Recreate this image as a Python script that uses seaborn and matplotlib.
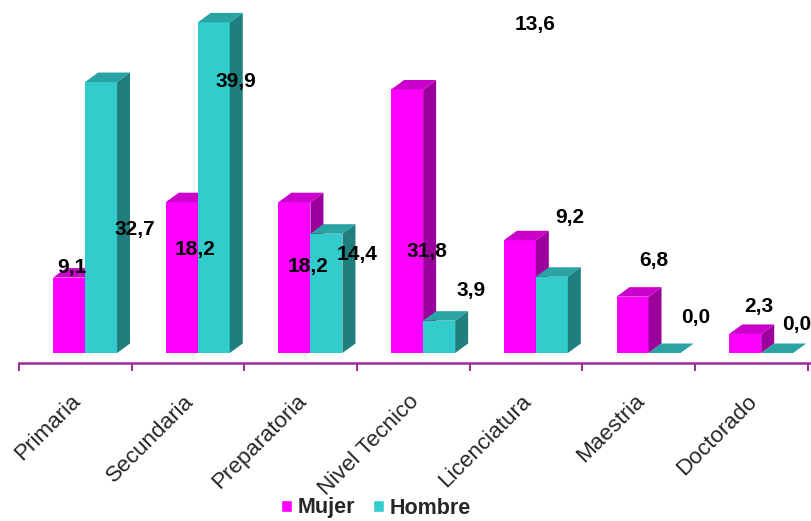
import numpy as np
import pandas as pd
import matplotlib
matplotlib.use("Agg")
import matplotlib.pyplot as plt
from matplotlib.patches import Polygon, Patch
import seaborn as sns

# Escolaridad por sexo (%)
niveles = ["Primaria", "Secundaria", "Preparatoria", "Nivel Tecnico",
           "Licenciatura", "Maestria", "Doctorado"]
mujer = [9.1, 18.2, 18.2, 31.8, 13.6, 6.8, 2.3]
hombre = [32.7, 39.9, 14.4, 3.9, 9.2, 0.0, 0.0]
series = ["Mujer", "Hombre"]

# Where each value label sits (category units, value units at the text baseline)
label_x_mujer = [-0.115, 0.976, 1.979, 3.035, 3.993, 5.049, 5.980]
label_y_mujer = [9.66, 11.83, 9.78, 11.59, 38.99, 10.50, 4.95]
label_x_hombre = [0.444, 1.335, 2.413, 3.425, 4.303, 5.421, 6.318]
label_y_hombre = [14.24, 32.11, 11.23, 6.88, 15.69, 3.62, 2.78]

MAGENTA = "#FF00FF"
CYAN = "#33CCCC"
AXIS_COLOR = "#9C2A9C"
shades = {
    MAGENTA: ("#CC00CC", "#9C009C"),
    CYAN: ("#29A3A3", "#1F7F7F"),
}

sns.set_style("white")
plt.rcParams["font.family"] = ["Liberation Sans", "DejaVu Sans"]

df = pd.DataFrame({
    "Nivel": niveles * 2,
    "Porcentaje": mujer + hombre,
    "Sexo": ["Mujer"] * len(niveles) + ["Hombre"] * len(niveles),
})

fig = plt.figure(figsize=(8.11, 5.21), dpi=100)
ax = fig.add_axes([19 / 811, 168 / 521, 791 / 811, 353 / 521])

sns.barplot(data=df, x="Nivel", y="Porcentaje", hue="Sexo", hue_order=series,
            palette=[MAGENTA, CYAN], width=0.568, saturation=1, linewidth=0,
            legend=False, ax=ax)

ax.set_xlim(-0.586, 6.433)
ax.set_ylim(0, 42.6)

# depth of the extruded bars: 13 px right, 9.5 px up
inv = ax.transData.inverted()
origin = ax.transData.transform((0, 0))
dx, dy = inv.transform(origin + np.array([13.0, 9.5])) - inv.transform(origin)

bars = list(ax.patches)
for bar in bars:
    fc = matplotlib.colors.to_hex(bar.get_facecolor()).upper()
    is_mujer = fc == MAGENTA
    z = 2 if is_mujer else 3
    bar.set_zorder(z)
    top_c, side_c = shades[MAGENTA if is_mujer else CYAN]
    x0 = bar.get_x()
    x1 = x0 + bar.get_width()
    h = bar.get_height()
    top = Polygon([(x0, h), (x0 + dx, h + dy), (x1 + dx, h + dy), (x1, h)],
                  closed=True, facecolor=top_c, edgecolor="none",
                  zorder=z, clip_on=False)
    side = Polygon([(x1, 0), (x1 + dx, dy), (x1 + dx, h + dy), (x1, h)],
                   closed=True, facecolor=side_c, edgecolor="none",
                   zorder=z, clip_on=False)
    ax.add_patch(side)
    ax.add_patch(top)

# value labels
def fmt(v):
    return f"{v:.1f}".replace(".", ",")

for vals, xs, ys in [(mujer, label_x_mujer, label_y_mujer),
                     (hombre, label_x_hombre, label_y_hombre)]:
    for v, x, y in zip(vals, xs, ys):
        ax.text(x, y, fmt(v), ha="center", va="baseline", fontsize=15,
                fontweight="bold", color="black", zorder=5, clip_on=False)

# axes styling
for s in ["top", "right", "left"]:
    ax.spines[s].set_visible(False)
ax.spines["bottom"].set_position(("outward", 7))
ax.spines["bottom"].set_color(AXIS_COLOR)
ax.spines["bottom"].set_linewidth(1.8)
ax.set_yticks([])
ax.set_ylabel("")
ax.set_xlabel("")

centers = [i - 0.13 for i in range(len(niveles))]
ax.set_xticks(centers)
ax.set_xticklabels(niveles, rotation=45, ha="right", va="top",
                   rotation_mode="anchor", fontsize=16.2)
ax.set_xticks([i - 0.586 for i in range(len(niveles) + 1)], minor=True)
ax.tick_params(axis="x", which="both", bottom=True)
ax.tick_params(axis="x", which="major", length=0, pad=20)
ax.tick_params(axis="x", which="minor", length=6, width=1.4,
               color=AXIS_COLOR, direction="out")

handles = [Patch(facecolor=MAGENTA, label="Mujer"),
           Patch(facecolor=CYAN, label="Hombre")]
fig.legend(handles=handles, loc="center", bbox_to_anchor=(376 / 811, 1 - 508 / 521),
           ncol=2, frameon=False,
           prop={"family": "Liberation Sans", "weight": "bold", "size": 15.5},
           handlelength=0.5, handleheight=0.5, handletextpad=0.3,
           columnspacing=0.8, borderaxespad=0, borderpad=0)

fig.savefig("out.png", dpi=100)
